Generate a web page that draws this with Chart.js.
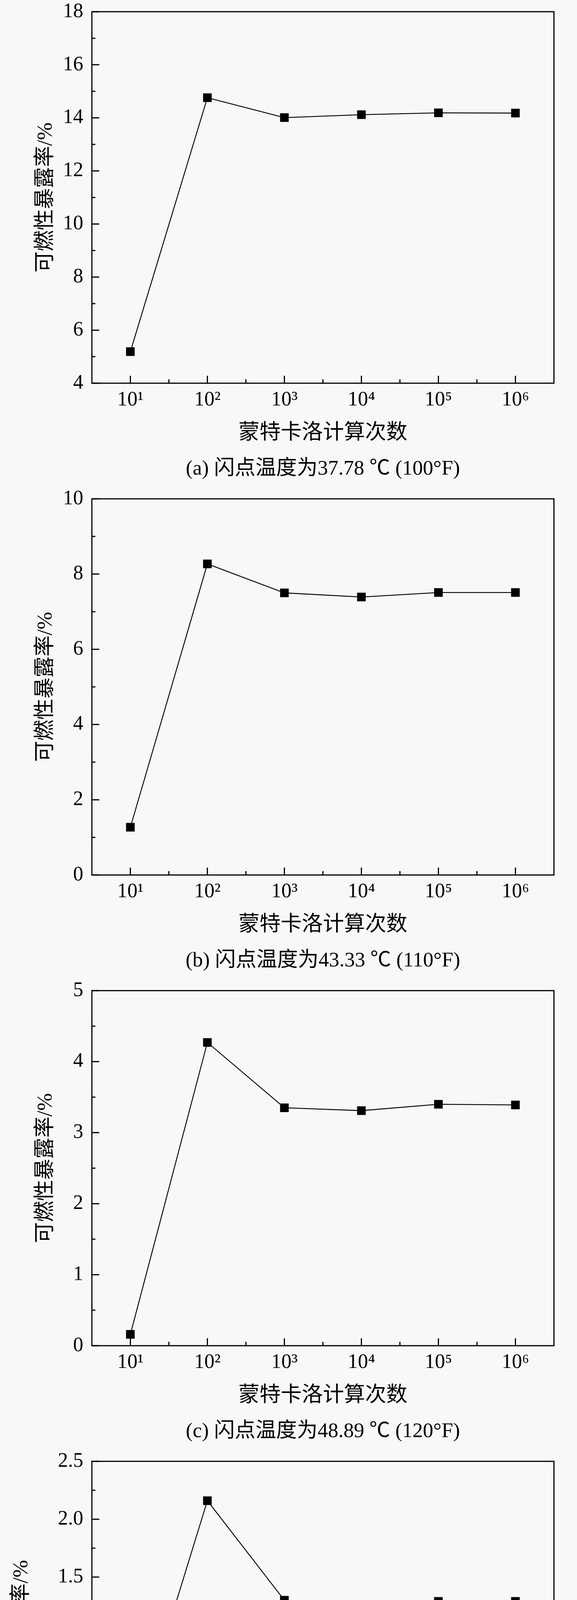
<!DOCTYPE html>
<html>
<head>
<meta charset="utf-8">
<script src="https://cdn.jsdelivr.net/npm/chart.js@4.4.1/dist/chart.umd.min.js"></script>
<style>
  html, body { margin: 0; padding: 0; background: #f8f8f8; overflow: hidden; }
  body { width: 1476px; height: 4883px; position: relative; }
  canvas { position: absolute; left: 0; }
</style>
</head>
<body>
<canvas id="chartA"></canvas>
<canvas id="chartB"></canvas>
<canvas id="chartC"></canvas>
<canvas id="chartD"></canvas>
<script>
const xLabels = ['10¹', '10²', '10³', '10⁴', '10⁵', '10⁶'];

const seriesA = [5.19, 14.76, 14.01, 14.12, 14.19, 14.18];
const seriesB = [1.27, 8.27, 7.50, 7.39, 7.51, 7.51];
const seriesC = [0.16, 4.27, 3.35, 3.31, 3.40, 3.39];
const seriesD = [0.00, 2.16, 1.30, 1.23, 1.29, 1.29];

const yTicksA = [4, 6, 8, 10, 12, 14, 16, 18];
const yTicksB = [0, 2, 4, 6, 8, 10];
const yTicksC = [0, 1, 2, 3, 4, 5];
const yTicksD = [-0.5, 0, 0.5, 1, 1.5, 2, 2.5];

const yTickLabelsA = ['4', '6', '8', '10', '12', '14', '16', '18'];
const yTickLabelsB = ['0', '2', '4', '6', '8', '10'];
const yTickLabelsC = ['0', '1', '2', '3', '4', '5'];
const yTickLabelsD = ['−0.5', '0', '0.5', '1.0', '1.5', '2.0', '2.5'];

const captions = [
    '(a) 闪点温度为37.78 ℃ (100°F)',
    '(b) 闪点温度为43.33 ℃ (110°F)',
    '(c) 闪点温度为48.89 ℃ (120°F)',
    '(d) 闪点温度为54.44 ℃ (130°F)'
];

const xTitle = '蒙特卡洛计算次数';
const yTitle = '可燃性暴露率/%';

const FONT = "'Liberation Serif', 'Noto Sans CJK SC', serif";
const PAD_TOP = 32;
const X_AXIS_H = 161.4;
const BELOW = 256;

// panel placement: top of plot frame, frame height, y title offset
const panels = [
    { id: 'chartA', top: 30,   height: 951, data: seriesA, ticks: yTicksA, labels: yTickLabelsA, titleOff: 85.6 },
    { id: 'chartB', top: 1277, height: 963, data: seriesB, ticks: yTicksB, labels: yTickLabelsB, titleOff: 85.6 },
    { id: 'chartC', top: 2536, height: 909, data: seriesC, ticks: yTicksC, labels: yTickLabelsC, titleOff: 85.6 },
    { id: 'chartD', top: 3741, height: 889, data: seriesD, ticks: yTicksD, labels: yTickLabelsD, titleOff: 23.6 }
];

const frameAndTicks = {
    id: 'frameAndTicks',
    afterDatasetsDraw(chart) {
        const { ctx, chartArea: a, scales: { x, y } } = chart;
        ctx.save();
        ctx.strokeStyle = '#000';
        ctx.lineWidth = 3;
        ctx.lineCap = 'butt';
        ctx.beginPath();

        const vals = y.ticks.map(t => t.value);
        const step = vals[1] - vals[0];
        vals.forEach(v => {
            const py = y.getPixelForValue(v);
            ctx.moveTo(a.left, py);
            ctx.lineTo(a.left + 19, py);
            if (v + step / 2 < y.max) {
                const pm = y.getPixelForValue(v + step / 2);
                ctx.moveTo(a.left, pm);
                ctx.lineTo(a.left + 9, pm);
            }
        });

        for (let i = 0; i < xLabels.length; i++) {
            const px = x.getPixelForValue(i);
            ctx.moveTo(px, a.bottom);
            ctx.lineTo(px, a.bottom - 19);
            if (i < xLabels.length - 1) {
                const pm = x.getPixelForValue(i + 0.5);
                ctx.moveTo(pm, a.bottom);
                ctx.lineTo(pm, a.bottom - 10);
            }
        }
        ctx.stroke();

        ctx.strokeRect(a.left, a.top, a.right - a.left, a.bottom - a.top);
        ctx.restore();
    }
};

panels.forEach((p, idx) => {
    const canvas = document.getElementById(p.id);
    const h = PAD_TOP + p.height + BELOW;
    canvas.width = 1476;
    canvas.height = h;
    canvas.style.top = (p.top - PAD_TOP) + 'px';
    canvas.style.width = '1476px';
    canvas.style.height = h + 'px';

    new Chart(canvas.getContext('2d'), {
        type: 'line',
        data: {
            labels: xLabels,
            datasets: [{
                data: p.data,
                borderColor: '#000',
                borderWidth: 2.3,
                tension: 0,
                pointStyle: 'rect',
                pointRadius: 15.6,
                pointBackgroundColor: '#000',
                pointBorderWidth: 0,
                clip: false
            }]
        },
        options: {
            responsive: false,
            animation: false,
            devicePixelRatio: 1,
            layout: {
                padding: { top: PAD_TOP, left: 0, right: 59, bottom: BELOW - X_AXIS_H - 26.8 - 63.6 }
            },
            plugins: {
                legend: { display: false },
                tooltip: { enabled: false },
                title: {
                    display: true,
                    text: captions[idx],
                    position: 'bottom',
                    fullSize: false,
                    color: '#000',
                    font: { family: FONT, size: 53, weight: 'normal', lineHeight: 1.2 },
                    padding: { top: 26.8, bottom: 0 }
                }
            },
            scales: {
                x: {
                    type: 'category',
                    offset: true,
                    grid: { display: false, drawTicks: false },
                    border: { display: false },
                    ticks: {
                        color: '#000',
                        padding: 12,
                        maxRotation: 0,
                        autoSkip: false,
                        font: { family: FONT, size: 52, lineHeight: 1.2 }
                    },
                    title: {
                        display: true,
                        text: xTitle,
                        color: '#000',
                        font: { family: FONT, size: 54, lineHeight: 1.2 },
                        padding: { top: 0, bottom: 0 }
                    },
                    afterFit: (scale) => {
                        scale.height = X_AXIS_H;
                        scale.paddingLeft = 0;
                        scale.paddingRight = 0;
                    }
                },
                y: {
                    min: p.ticks[0],
                    max: p.ticks[p.ticks.length - 1],
                    grid: { display: false, drawTicks: false },
                    border: { display: false },
                    afterBuildTicks: (scale) => {
                        scale.ticks = p.ticks.map(v => ({ value: v }));
                    },
                    ticks: {
                        color: '#000',
                        padding: 22,
                        autoSkip: false,
                        font: { family: FONT, size: 52, lineHeight: 1.2 },
                        callback: (value, i) => p.labels[i]
                    },
                    title: {
                        display: true,
                        text: yTitle,
                        color: '#000',
                        font: { family: FONT, size: 54, lineHeight: 1.2 },
                        padding: { top: p.titleOff, bottom: 0 }
                    },
                    afterFit: (scale) => {
                        scale.width = 235;
                        scale.paddingTop = 0;
                        scale.paddingBottom = 0;
                    }
                }
            }
        },
        plugins: [frameAndTicks]
    });
});
</script>
</body>
</html>
